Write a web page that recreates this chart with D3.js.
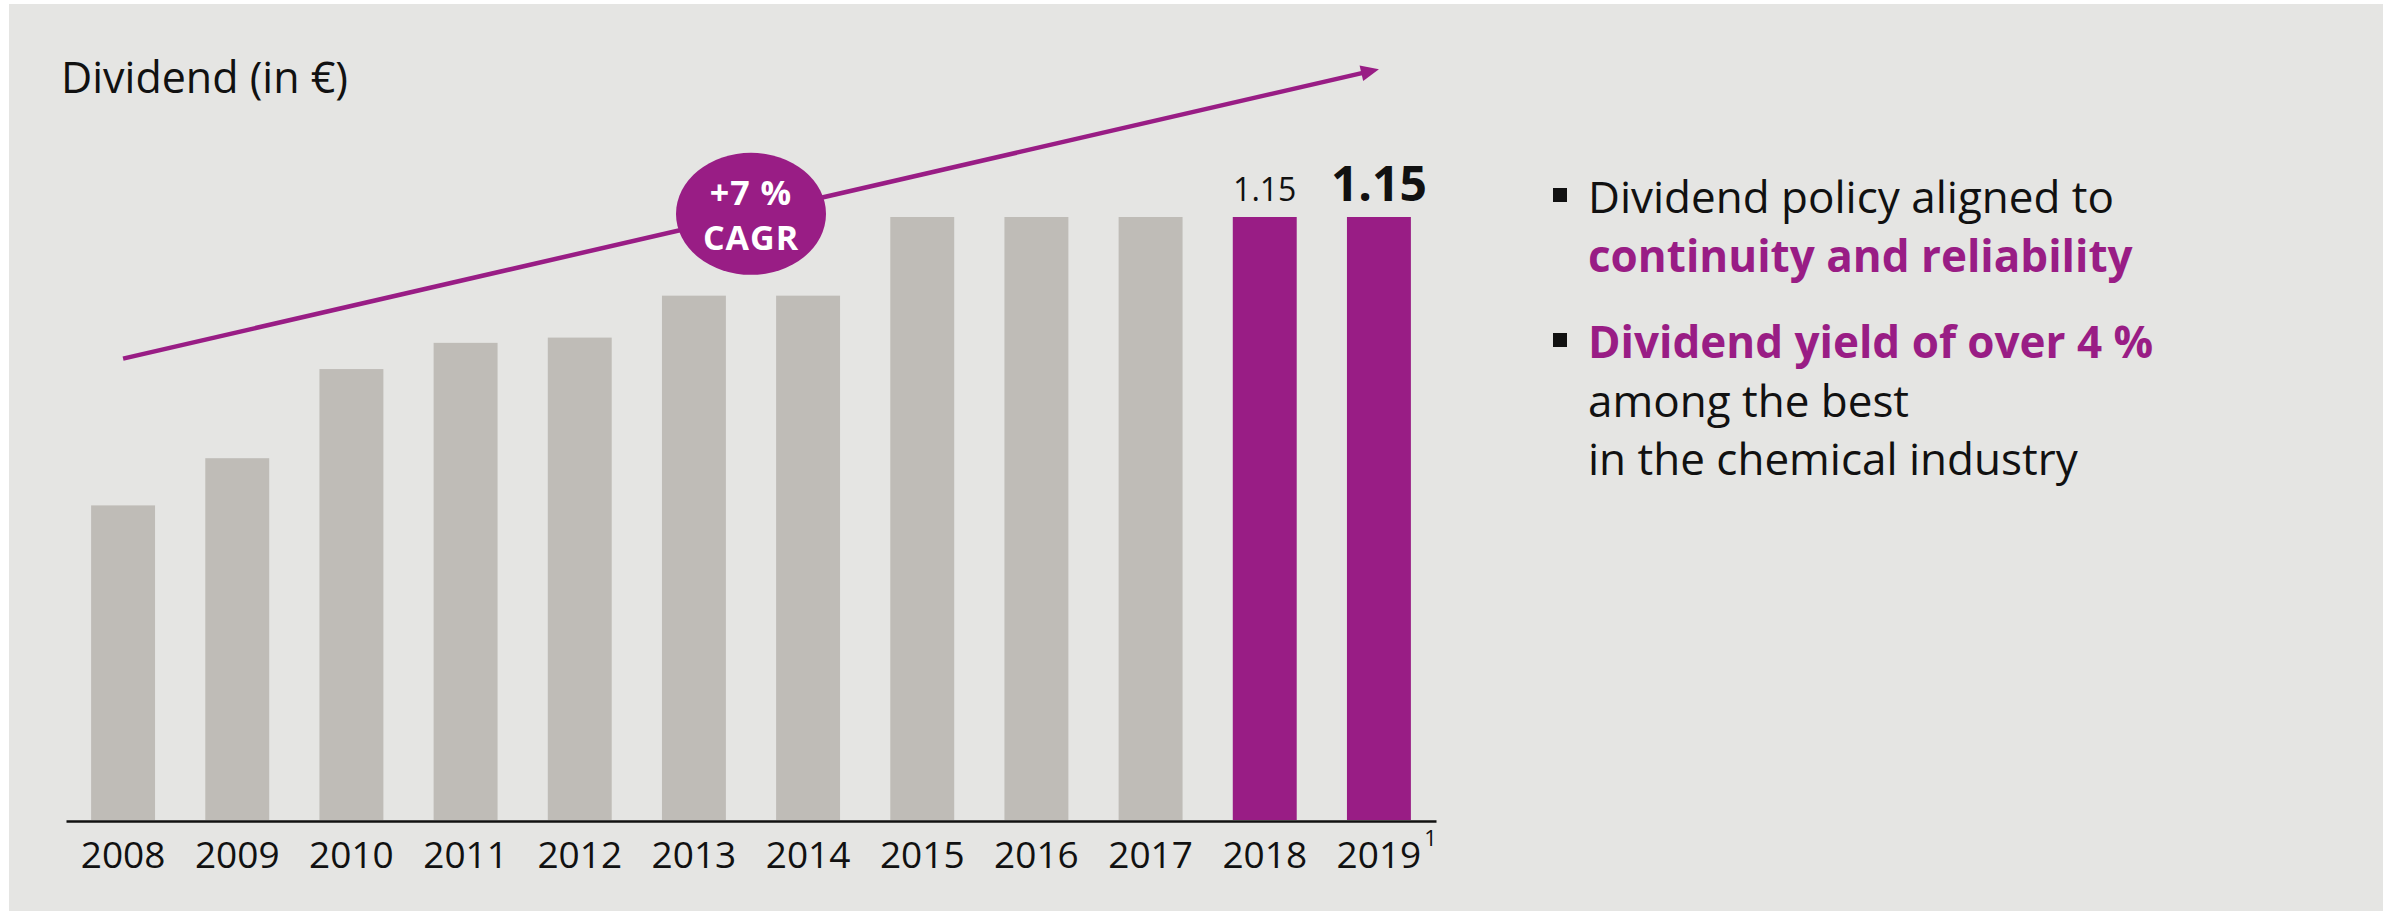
<!DOCTYPE html>
<html>
<head>
<meta charset="utf-8">
<script src="https://cdn.jsdelivr.net/npm/d3@7"></script>
<style>
  body { margin: 0; background: #fff; }
  text { font-family: "Open Sans", "Noto Sans", sans-serif; }
</style>
</head>
<body>
<svg id="chart"></svg>
<script>
(function() {

// data
var years = ["2008", "2009", "2010", "2011", "2012", "2013", "2014", "2015", "2016", "2017", "2018", "2019"];
var dividends = [0.60, 0.69, 0.86, 0.91, 0.92, 1.00, 1.00, 1.15, 1.15, 1.15, 1.15, 1.15];
var highlightYears = ["2018", "2019"];
var labelYears = ["2018", "2019"];
var boldLabelYear = "2019";
var footnoteYear = "2019",
    footnoteMark = "1";
var trendYears = ["2008", "2019"];
var trendValues = [0.88, 1.432];
var cagrLines = ["+7 %", "CAGR"];
var title = "Dividend (in \u20ac)";
var bulletLines = [
  [{text: "Dividend policy aligned to", hi: false}, {text: "continuity and reliability", hi: true}],
  [{text: "Dividend yield of over 4 %", hi: true}, {text: "among the best", hi: false}, {text: "in the chemical industry", hi: false}]
];

var W = 2397, H = 911,
    purple = "#991d85",
    grey = "#bfbcb7",
    bg = "#e5e5e3",
    ink = "#111";

var data = years.map(function(y, i) { return {year: y, value: dividends[i]}; });

var svg = d3.select("#chart")
    .attr("width", W)
    .attr("height", H);

// panel
svg.append("rect")
  .attr("x", 9).attr("y", 4)
  .attr("width", 2374).attr("height", H - 4)
  .attr("fill", bg);

var x = d3.scaleBand()
  .domain(years)
  .range([66, 1436])
  .paddingInner(0.44)
  .paddingOuter(0.22);

var y = d3.scaleLinear()
  .domain([0, 1.15])
  .range([820, 217]);

var cx = function(yr) { return x(yr) + x.bandwidth() / 2; };

// title
svg.append("text")
  .attr("x", 61).attr("y", 93)
  .attr("font-size", 43)
  .attr("fill", ink)
  .text(title);

// bars
svg.append("g").selectAll("rect")
  .data(data)
  .enter().append("rect")
    .attr("x", function(d) { return x(d.year); })
    .attr("y", function(d) { return y(d.value); })
    .attr("width", x.bandwidth())
    .attr("height", function(d) { return y(0) - y(d.value); })
    .attr("fill", function(d) { return highlightYears.indexOf(d.year) >= 0 ? purple : grey; });

// axis
var xAxis = svg.append("g")
  .attr("transform", "translate(0,821)")
  .call(d3.axisBottom(x).tickSize(0).tickSizeOuter(0).tickPadding(0));

xAxis.select(".domain")
  .attr("stroke", ink)
  .attr("stroke-width", 2.5);

xAxis.selectAll("text")
  .attr("y", 47)
  .attr("dy", 0)
  .attr("font-size", 37)
  .attr("font-family", "'Open Sans', sans-serif")
  .attr("fill", ink);

// footnote mark next to the 2019 tick
var fnLabel = xAxis.selectAll(".tick")
  .filter(function(d) { return d === footnoteYear; })
  .select("text");
var fnWidth = fnLabel.node().getComputedTextLength();
svg.append("text")
  .attr("x", cx(footnoteYear) + fnWidth / 2 + 3)
  .attr("y", 846)
  .attr("font-size", 22)
  .attr("fill", ink)
  .text(footnoteMark);

// value labels
svg.append("g").selectAll("text")
  .data(data.filter(function(d) { return labelYears.indexOf(d.year) >= 0; }))
  .enter().append("text")
    .attr("x", function(d) { return cx(d.year); })
    .attr("y", function(d) { return y(d.value) - 16; })
    .attr("text-anchor", "middle")
    .attr("font-size", function(d) { return d.year === boldLabelYear ? 48 : 32; })
    .attr("font-weight", function(d) { return d.year === boldLabelYear ? 700 : 400; })
    .attr("fill", ink)
    .text(function(d) { return d3.format(".2f")(d.value); });

// trend arrow
var p0 = [cx(trendYears[0]), y(trendValues[0])],
    p1 = [cx(trendYears[1]), y(trendValues[1])],
    len = Math.hypot(p1[0] - p0[0], p1[1] - p0[1]),
    u = [(p1[0] - p0[0]) / len, (p1[1] - p0[1]) / len],
    n = [-u[1], u[0]],
    headLen = 18, headW = 8;

svg.append("line")
  .attr("x1", p0[0]).attr("y1", p0[1])
  .attr("x2", p1[0] - u[0] * 12).attr("y2", p1[1] - u[1] * 12)
  .attr("stroke", purple)
  .attr("stroke-width", 4.5);

var b = [p1[0] - u[0] * headLen, p1[1] - u[1] * headLen];
svg.append("path")
  .attr("d", "M" + p1 + "L" + [b[0] + n[0] * headW, b[1] + n[1] * headW] +
             "L" + [b[0] - n[0] * headW, b[1] - n[1] * headW] + "Z")
  .attr("fill", purple);

// CAGR bubble
var mid = [(p0[0] + p1[0]) / 2, (p0[1] + p1[1]) / 2];
svg.append("ellipse")
  .attr("cx", mid[0]).attr("cy", mid[1])
  .attr("rx", 75).attr("ry", 61)
  .attr("fill", purple);

svg.append("g").selectAll("text")
  .data(cagrLines)
  .enter().append("text")
    .attr("x", mid[0])
    .attr("y", function(d, i) { return mid[1] - 9 + i * 45; })
    .attr("text-anchor", "middle")
    .attr("font-size", 34)
    .attr("font-weight", 700)
    .attr("letter-spacing", 1)
    .attr("fill", "#fff")
    .text(function(d) { return d; });

// bullet text
var lineY = [[213, 272], [358, 417, 475]];
var bullets = svg.append("g").selectAll("g")
  .data(bulletLines)
  .enter().append("g");

bullets.append("rect")
  .attr("x", 1553)
  .attr("y", function(d, i) { return lineY[i][0] - 25; })
  .attr("width", 14).attr("height", 14)
  .attr("fill", ink);

bullets.each(function(lines, i) {
  d3.select(this).selectAll("text")
    .data(lines)
    .enter().append("text")
      .attr("x", 1588)
      .attr("y", function(d, j) { return lineY[i][j]; })
      .attr("font-size", 44)
      .attr("font-weight", function(d) { return d.hi ? 700 : 400; })
      .attr("fill", function(d) { return d.hi ? purple : ink; })
      .text(function(d) { return d.text; });
});

})();
</script>
</body>
</html>
